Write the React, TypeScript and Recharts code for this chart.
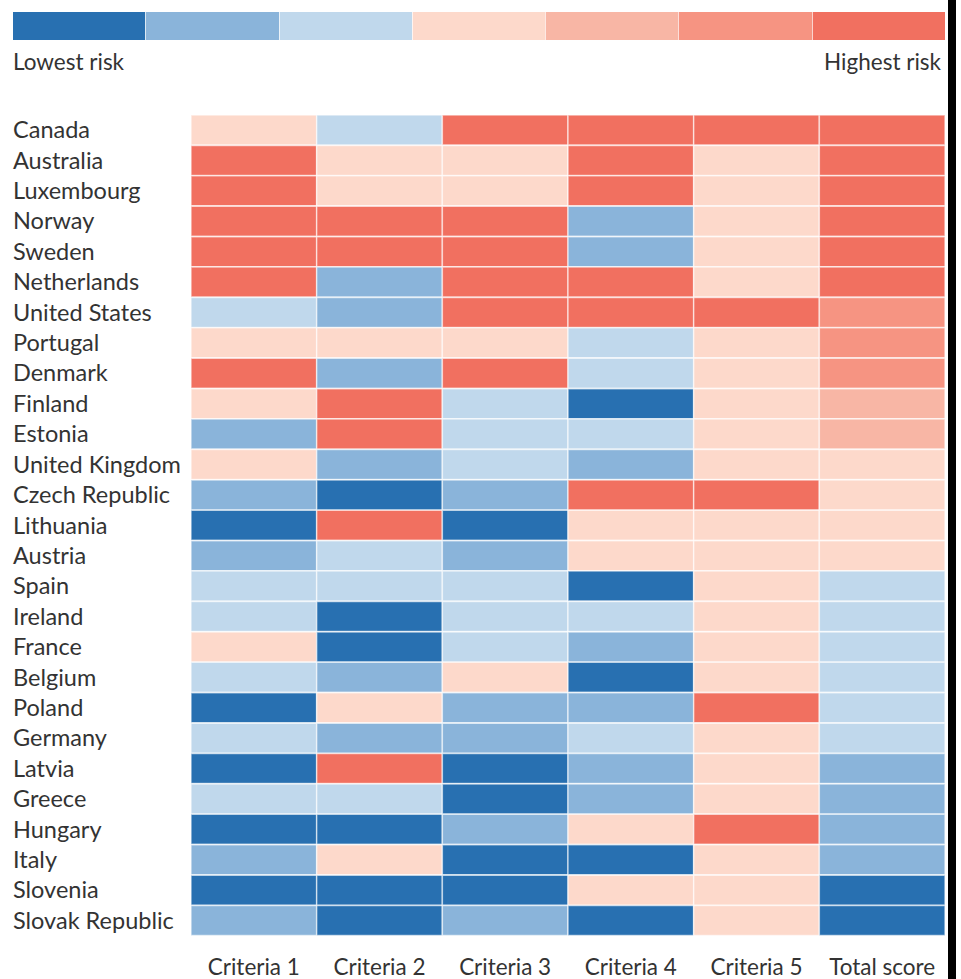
import React from 'react';
import { BarChart, Bar, Cell, XAxis, YAxis } from 'recharts';

const COUNTRIES = [
  'Canada', 'Australia', 'Luxembourg', 'Norway', 'Sweden', 'Netherlands',
  'United States', 'Portugal', 'Denmark', 'Finland', 'Estonia', 'United Kingdom',
  'Czech Republic', 'Lithuania', 'Austria', 'Spain', 'Ireland', 'France',
  'Belgium', 'Poland', 'Germany', 'Latvia', 'Greece', 'Hungary', 'Italy',
  'Slovenia', 'Slovak Republic',
];

const COLUMNS = ['Criteria 1', 'Criteria 2', 'Criteria 3', 'Criteria 4', 'Criteria 5', 'Total score'];

// risk level 1 (lowest) .. 7 (highest)
const COLORS = ['#2870b1', '#8ab4da', '#c0d8ec', '#fdd9cb', '#f8b6a5', '#f69482', '#f17060'];

const CRITERIA_1 = [4, 7, 7, 7, 7, 7, 3, 4, 7, 4, 2, 4, 2, 1, 2, 3, 3, 4, 3, 1, 3, 1, 3, 1, 2, 1, 2];
const CRITERIA_2 = [3, 4, 4, 7, 7, 2, 2, 4, 2, 7, 7, 2, 1, 7, 3, 3, 1, 1, 2, 4, 2, 7, 3, 1, 4, 1, 1];
const CRITERIA_3 = [7, 4, 4, 7, 7, 7, 7, 4, 7, 3, 3, 3, 2, 1, 2, 3, 3, 3, 4, 2, 2, 1, 1, 2, 1, 1, 2];
const CRITERIA_4 = [7, 7, 7, 2, 2, 7, 7, 3, 3, 1, 3, 2, 7, 4, 4, 1, 3, 2, 1, 2, 3, 2, 2, 4, 1, 4, 1];
const CRITERIA_5 = [7, 4, 4, 4, 4, 4, 7, 4, 4, 4, 4, 4, 7, 4, 4, 4, 4, 4, 4, 7, 4, 4, 4, 7, 4, 4, 4];
const TOTAL_SCORE = [7, 7, 7, 7, 7, 7, 6, 6, 6, 5, 5, 4, 4, 4, 4, 3, 3, 3, 3, 3, 3, 2, 2, 2, 2, 1, 1];

const LEVELS = [CRITERIA_1, CRITERIA_2, CRITERIA_3, CRITERIA_4, CRITERIA_5, TOTAL_SCORE];

const FONT = 'Lato, "Open Sans", sans-serif';
const TEXT = '#333333';

const data = COUNTRIES.map((name, i) => {
  const row: Record<string, any> = { name };
  LEVELS.forEach((_, c) => { row[`c${c}`] = 1; });
  return row;
});

const CountryTick = ({ y, payload }: any) => (
  <text x={13} y={y} dy={8} textAnchor="start" fontSize={23.5} fill={TEXT} fontFamily={FONT}>
    {payload.value}
  </text>
);

const ColumnTick = ({ x, y, payload }: any) => (
  <text x={x} y={y} dy={31} textAnchor="middle" fontSize={22.5} fill={TEXT} fontFamily={FONT}>
    {COLUMNS[Math.floor(payload.value)]}
  </text>
);

export default function App() {
  return (
    <div style={{ position: 'absolute', left: 0, top: 0, width: 961, height: 979, background: '#fff', fontFamily: FONT }}>
      {/* legend scale */}
      <div style={{ position: 'absolute', left: 13, top: 12, width: 932, height: 28, display: 'flex' }}>
        {COLORS.map((c, i) => (
          <div key={i} style={{ flex: 1, background: c, borderLeft: i ? '1.5px solid rgba(255,255,255,0.7)' : 'none' }} />
        ))}
      </div>
      <div style={{ position: 'absolute', left: 13, top: 48, fontSize: 22.5, color: TEXT }}>Lowest risk</div>
      <div style={{ position: 'absolute', right: 961 - 941, top: 48, fontSize: 22.5, color: TEXT }}>Highest risk</div>

      <BarChart
        width={961}
        height={979}
        data={data}
        layout="vertical"
        barCategoryGap={0}
        margin={{ top: 115, right: 16, bottom: 0, left: 13 }}
      >
        <XAxis
          type="number"
          domain={[0, 6]}
          ticks={[0.5, 1.5, 2.5, 3.5, 4.5, 5.5]}
          axisLine={false}
          tickLine={false}
          height={43}
          tick={<ColumnTick />}
          interval={0}
        />
        <YAxis
          type="category"
          dataKey="name"
          width={178}
          axisLine={false}
          tickLine={false}
          interval={0}
          tick={<CountryTick />}
        />
        {LEVELS.map((levels, c) => (
          <Bar
            key={c}
            dataKey={`c${c}`}
            stackId="a"
            isAnimationActive={false}
            stroke="#ffffff"
            strokeOpacity={0.6}
            strokeWidth={1.5}
          >
            {levels.map((lv, i) => (
              <Cell key={i} fill={COLORS[lv - 1]} />
            ))}
          </Bar>
        ))}
      </BarChart>

      <div style={{ position: 'absolute', left: 948, top: 0, width: 8, height: 979, background: '#000' }} />
    </div>
  );
}
